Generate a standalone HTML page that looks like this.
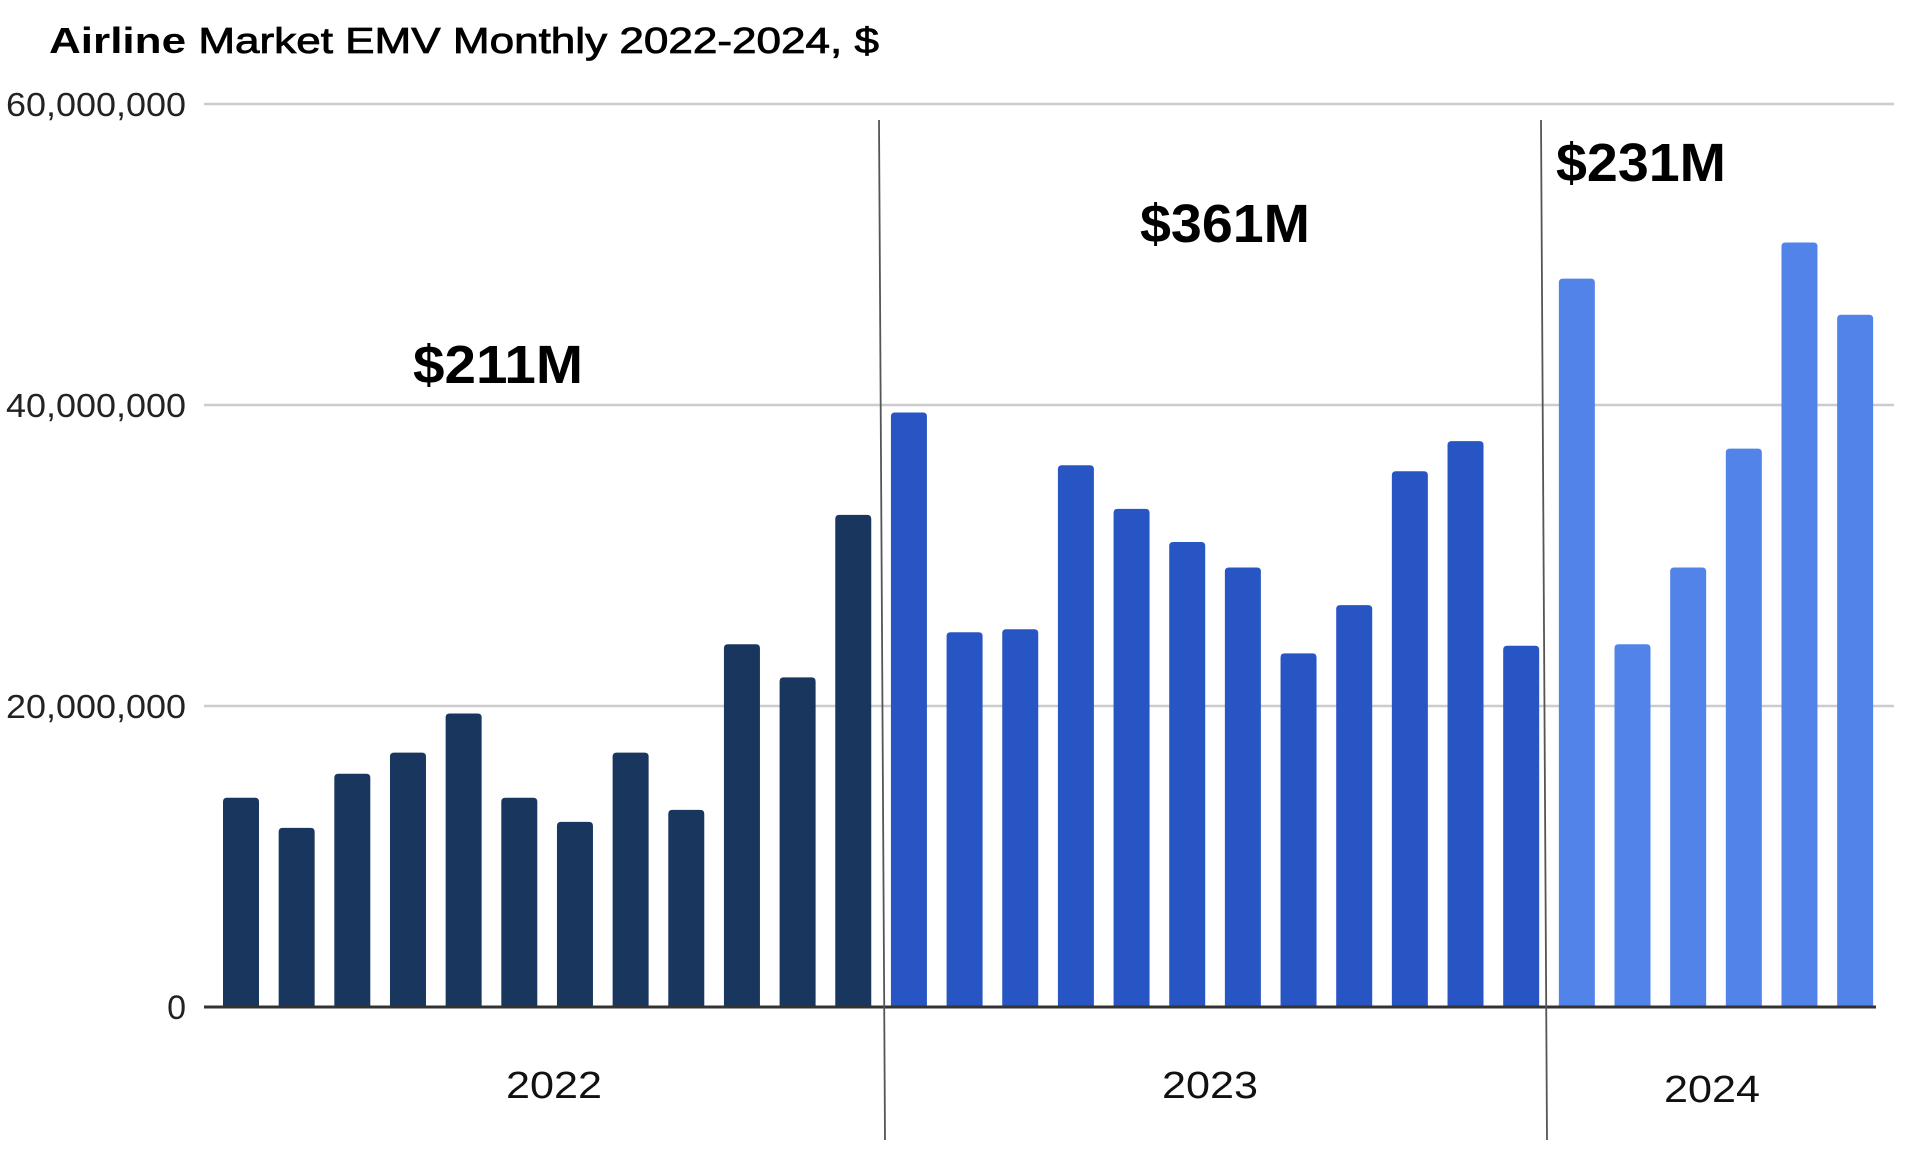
<!DOCTYPE html>
<html><head><meta charset="utf-8"><style>
html,body{margin:0;padding:0;background:#fff;}
svg{display:block;}
text{font-family:"Liberation Sans",sans-serif;}
</style></head><body>
<svg id="chart" width="1914" height="1154" viewBox="0 0 1914 1154" xmlns="http://www.w3.org/2000/svg">
<text x="49" y="53" font-size="36" fill="#000" textLength="830" lengthAdjust="spacingAndGlyphs"><tspan font-weight="bold">Airline</tspan><tspan stroke="#000" stroke-width="0.8"> Market EMV Monthly 2022-2024, $</tspan></text>
<g id="grid"></g>
<g id="bars"></g>
<g id="labels"></g>
</svg>
<script>
const years = ["2022","2023","2024"];
const values2022 = [13.9,11.9,15.5,16.9,19.5,13.9,12.3,16.9,13.1,24.1,21.9,32.7];
const values2023 = [39.5,24.9,25.1,36.0,33.1,30.9,29.2,23.5,26.7,35.6,37.6,24.0];
const values2024 = [48.4,24.1,29.2,37.1,50.8,46.0];
const yTicks = [0,20,40,60];
const yTickLabels = ["0","20,000,000","40,000,000","60,000,000"];
const totals = ["$211M","$361M","$231M"];

const NS="http://www.w3.org/2000/svg";
const svg=document.getElementById('chart');
const gGrid=document.getElementById('grid'), gBars=document.getElementById('bars'), gLab=document.getElementById('labels');
const y0=1007, pxPer=301/20;
const yScale=v=>y0-v*pxPer;
const firstC=241, band=55.66, bw=36;
const xScale=i=>firstC+i*band;
function mk(tag,attrs,parent){const e=document.createElementNS(NS,tag);for(const k in attrs)e.setAttribute(k,attrs[k]);parent.appendChild(e);return e;}

yTicks.forEach((t,i)=>{
  if(t>0){const l=mk('line',{x1:204,x2:1894,y1:yScale(t),y2:yScale(t),stroke:'#cccccc','stroke-width':2.5},gGrid);
  
  }
  const tx=mk('text',{x:186,y:yScale(t)+12,'font-size':t===0?34:33,'text-anchor':'end',fill:'#222'},gLab);
  if(t>0){tx.setAttribute('textLength',180);tx.setAttribute('lengthAdjust','spacingAndGlyphs');}
  tx.textContent=yTickLabels[i];
  
  
});

const series=[values2022,values2023,values2024];
const colors=["#19365f","#2855c4","#5283e8"];
let idx=0;
series.forEach((vals,s)=>{
  vals.forEach(v=>{
    const cx=xScale(idx), top=yScale(v*1);
    const r=mk('path',{d:`M${cx-bw/2},${y0} V${top+4} Q${cx-bw/2},${top} ${cx-bw/2+4},${top} H${cx+bw/2-4} Q${cx+bw/2},${top} ${cx+bw/2},${top+4} V${y0} Z`,fill:colors[s]},gBars);
    
    
    idx++;
  });
});

const base=mk('line',{x1:204,x2:1876,y1:y0,y2:y0,stroke:'#333','stroke-width':3},gBars);



const div1=mk('line',{x1:879,y1:120,x2:885,y2:1140,stroke:'#555','stroke-width':1.8},gLab);


const div2=mk('line',{x1:1541,y1:120,x2:1547,y2:1140,stroke:'#555','stroke-width':1.8},gLab);



const yearPos=[[554,1098],[1210,1098],[1712,1102]];
years.forEach((y,i)=>{
  const t=mk('text',{x:yearPos[i][0],y:yearPos[i][1],'font-size':38,'text-anchor':'middle',fill:'#111',textLength:96,lengthAdjust:'spacingAndGlyphs'},gLab);
  t.textContent=y;
  
  
});

const totPos=[[413,383],[1140,242],[1556,181]];
totals.forEach((s,i)=>{
  const t=mk('text',{x:totPos[i][0],y:totPos[i][1],'font-size':54,'font-weight':'bold',fill:'#000',textLength:170,lengthAdjust:'spacingAndGlyphs'},gLab);
  t.textContent=s;
  
  
});
</script>
</body></html>
